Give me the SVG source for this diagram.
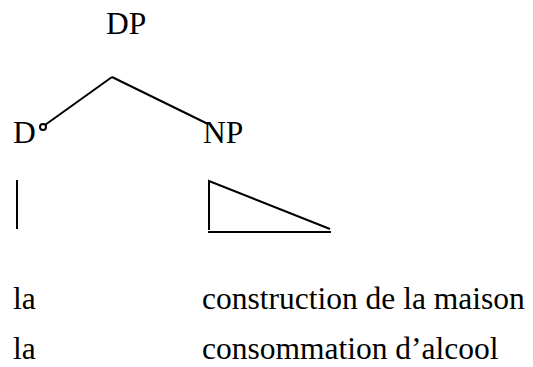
<svg xmlns="http://www.w3.org/2000/svg" width="533" height="367" viewBox="0 0 533 367">
<style>
text{font-family:'Liberation Serif','Times New Roman',serif;font-size:31.5px;fill:#000}
.ln{stroke:#000;stroke-width:2;fill:none}
</style>
<rect width="533" height="367" fill="#fff"/>
<g id="DP"><text x="106" y="34">DP</text></g>
<g id="D"><text x="13" y="143">D</text><circle cx="43" cy="127" r="3" class="ln" stroke-width="1.2"/></g>
<g id="NP"><text x="203" y="143">NP</text></g>
<g id="connectors">
<line class="ln" x1="45" y1="125" x2="112" y2="77"/>
<line class="ln" x1="112" y1="77" x2="208" y2="124"/>
<line class="ln" x1="17" y1="180" x2="17" y2="229"/>
<path class="ln" d="M209,230 V181 L330,229"/>
<line class="ln" x1="208" y1="232" x2="331" y2="232"/>
</g>
<g id="words">
<text x="13" y="309">la</text>
<text x="202" y="309">construction de la maison</text>
<text x="13" y="359">la</text>
<text x="202" y="359">consommation d’alcool</text>
</g>
</svg>
